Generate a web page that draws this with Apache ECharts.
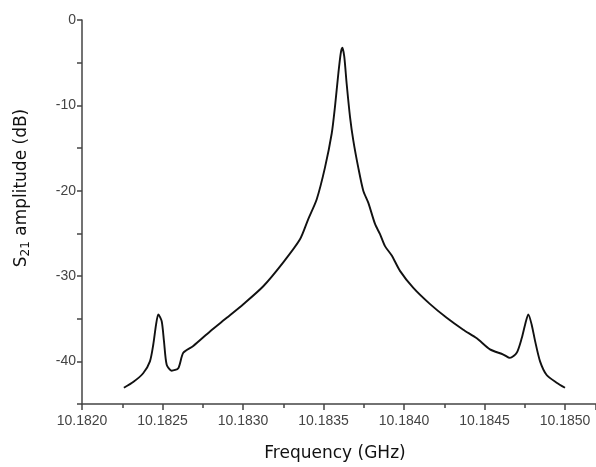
<!DOCTYPE html>
<html>
<head>
<meta charset="utf-8">
<script src="https://cdn.jsdelivr.net/npm/echarts@6/dist/echarts.min.js"></script>
<style>html,body{margin:0;padding:0;background:#fff}#c{width:596px;height:467px}</style>
</head>
<body>
<div id="c"></div>
<script>
// Frequency (GHz) and S21 amplitude (dB)
const freq = [
  10.18226, 10.18232, 10.18238, 10.182422, 10.182443, 10.18246, 10.182474, 10.182495,
  10.182509, 10.182526, 10.182557, 10.182598, 10.182629, 10.182691, 10.182795, 10.182899,
  10.183002, 10.183126, 10.18325, 10.183354, 10.183406, 10.183458, 10.183509, 10.183551,
  10.183571, 10.183592, 10.183607, 10.183617, 10.183629, 10.183644, 10.183665, 10.183685,
  10.183716, 10.183747, 10.183778, 10.18382, 10.183851, 10.183882, 10.183924, 10.183975,
  10.184058, 10.184162, 10.184265, 10.184368, 10.184452, 10.184534, 10.184617, 10.184658,
  10.1847, 10.184731, 10.184752, 10.184772, 10.184793, 10.184814, 10.184845, 10.184886,
  10.184948, 10.185
];
const s21 = [
  -43.1, -42.4, -41.4, -40.0, -38.0, -35.7, -34.5, -35.3,
  -37.6, -40.4, -41.1, -40.8, -39.0, -38.2, -36.5, -34.9,
  -33.3, -31.2, -28.4, -25.7, -23.3, -21.0, -17.3, -13.3,
  -10.2, -6.3, -3.9, -3.25, -4.3, -7.5, -11.4, -14.1,
  -17.3, -20.0, -21.4, -23.9, -25.1, -26.5, -27.6, -29.4,
  -31.4, -33.3, -34.9, -36.3, -37.3, -38.6, -39.2, -39.6,
  -39.0, -37.3, -35.7, -34.5, -35.7, -37.6, -40.0, -41.6,
  -42.5, -43.1
];
const xTickLabels = ['10.1820','10.1825','10.1830','10.1835','10.1840','10.1845','10.1850'];
const yTickLabels = ['0','-10','-20','-30','-40'];

const chart = echarts.init(document.getElementById('c'));
chart.setOption({
  animation: false,
  backgroundColor: '#fff',
  grid: { left: 82, top: 20, right: 0, bottom: 63, containLabel: false },
  xAxis: {
    type: 'value',
    min: 10.182, max: 10.1851925, interval: 0.0005,
    name: 'Frequency (GHz)', nameLocation: 'middle', nameGap: 41,
    nameTextStyle: { fontFamily: 'DejaVu Sans', fontSize: 17, color: '#111', padding: [0, 8, 0, 0] },
    axisLine: { onZero: false, lineStyle: { color: '#444', width: 1.5 } },
    axisTick: { length: 6, lineStyle: { color: '#444', width: 1.5 } },
    minorTick: { show: true, splitNumber: 2, length: 4, lineStyle: { color: '#444', width: 1.5 } },
    splitLine: { show: false },
    minorSplitLine: { show: false },
    axisLabel: {
      margin: 10, color: '#444', fontFamily: 'Liberation Sans', fontSize: 14,
      showMaxLabel: false,
      formatter: function (v) {
        const s = v.toFixed(4);
        return xTickLabels.indexOf(s) >= 0 ? s : '';
      }
    }
  },
  yAxis: {
    type: 'value',
    min: -45, max: 0, interval: 5,
    name: '{m|S}{s|21}{m| amplitude (dB)}', nameLocation: 'middle', nameGap: 50,
    nameTextStyle: {
      padding: [0, 0, 0, 48],
      rich: {
        m: { fontFamily: 'DejaVu Sans', fontSize: 17, color: '#111' },
        s: { fontFamily: 'DejaVu Sans', fontSize: 12, color: '#111', verticalAlign: 'bottom', padding: [8, 0, 0, 0] }
      }
    },
    axisLine: { show: true, onZero: false, lineStyle: { color: '#444', width: 1.5 } },
    axisTick: { show: true, length: 5, lineStyle: { color: '#444', width: 1.5 } },
    splitLine: { show: false },
    axisLabel: {
      margin: 6, color: '#444', fontFamily: 'Liberation Sans', fontSize: 14,
      formatter: function (v) {
        const s = String(Math.round(v));
        return yTickLabels.indexOf(s) >= 0 ? s : '';
      }
    }
  },
  series: [{
    type: 'line',
    data: freq.map((f, i) => [f, s21[i]]),
    showSymbol: false,
    smooth: 0.25,
    lineStyle: { color: '#111', width: 1.9 }
  }]
});
</script>
</body>
</html>
